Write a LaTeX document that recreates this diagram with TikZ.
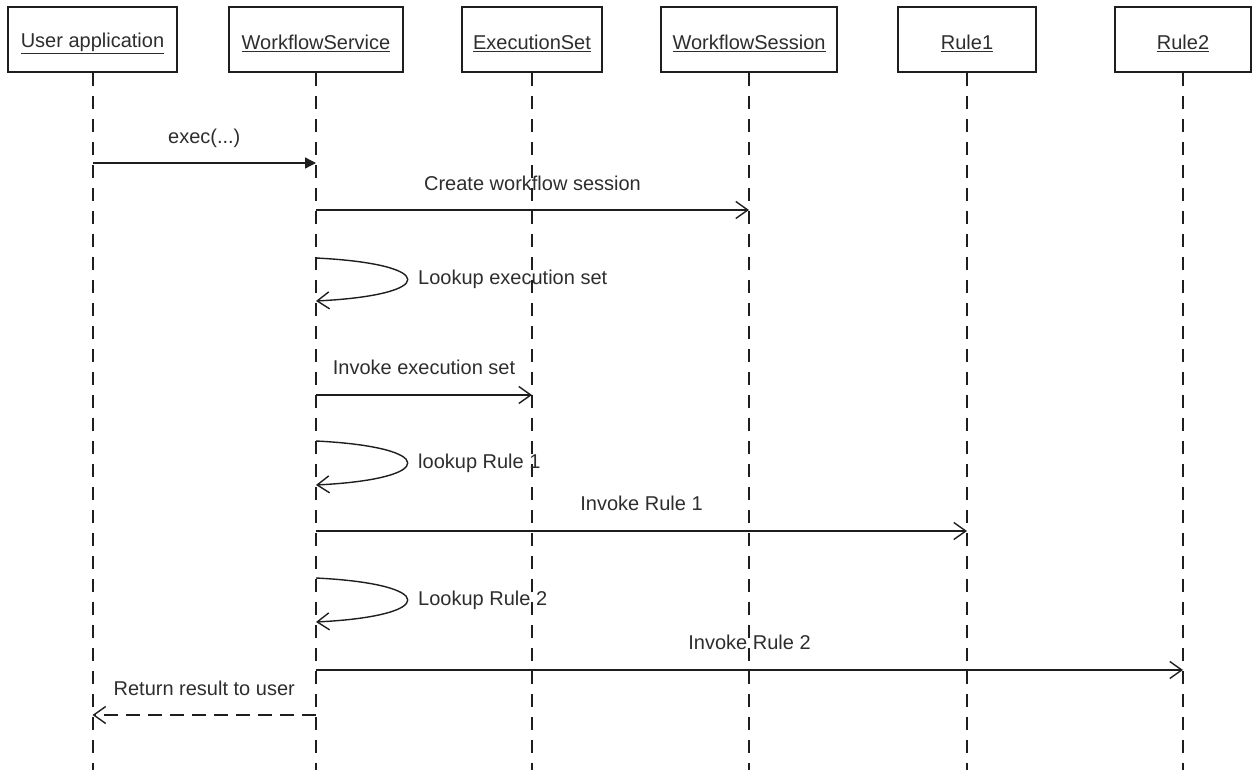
\documentclass[tikz,border=0pt]{standalone}
\usepackage{fontspec}
\setmainfont{Liberation Sans}
\usetikzlibrary{arrows.meta}
\definecolor{ink}{RGB}{30,30,30}
\definecolor{txt}{RGB}{45,45,45}
\tikzset{
  objbox/.style={draw=ink, line width=1.8pt, minimum height=65pt, inner sep=0pt, text=txt, font=\fontsize{20}{24}\selectfont},
  objtext/.style={text=txt, font=\fontsize{20}{24}\selectfont, inner sep=0pt},
  lifeline/.style={draw=ink, line width=2pt, dash pattern=on 13pt off 10pt},
  msg/.style={draw=ink, line width=1.4pt, -{Straight Barb[length=12pt,width=17pt,line width=1.4pt]}},
  call/.style={draw=ink, line width=1.4pt, -{Triangle[length=11pt,width=11pt]}},
  ret/.style={msg, dash pattern=on 14pt off 8pt},
  lbl/.style={text=txt, font=\fontsize{20}{24}\selectfont, inner sep=0pt},
}
\begin{document}
\begin{tikzpicture}[x=1pt,y=-1pt]
\useasboundingbox (0,0) rectangle (1252,770);
% objects
\node[objbox, minimum width=169pt] (ua) at (92.5,39.5) {};
\node[objbox, minimum width=174pt] (ws) at (316,39.5) {};
\node[objbox, minimum width=140pt] (es) at (532,39.5) {};
\node[objbox, minimum width=176pt] (wss) at (749,39.5) {};
\node[objbox, minimum width=138pt] (r1) at (967,39.5) {};
\node[objbox, minimum width=136pt] (r2) at (1183,39.5) {};
\node[objtext] (uat) at ([yshift=-4pt]ua.center) {\underline{User application}};
\node[objtext] (wst) at ([yshift=-4pt]ws.center) {\underline{WorkflowService}};
\node[objtext] (est) at ([yshift=-4pt]es.center) {\underline{ExecutionSet}};
\node[objtext] (wsst) at ([yshift=-4pt]wss.center) {\underline{WorkflowSession}};
\node[objtext] (r1t) at ([yshift=-4pt]r1.center) {\underline{Rule1}};
\node[objtext] (r2t) at ([yshift=-4pt]r2.center) {\underline{Rule2}};
% lifelines
\foreach \n in {ua,ws,es,wss,r1,r2}{
  \coordinate (\n-end) at (\n.south |- 0,770);
  \draw[lifeline] (\n.south) -- (\n-end);
}
% message points
\coordinate (a1) at (ua.south |- 0,163);  \coordinate (b1) at (ws.south |- 0,163);
\coordinate (a2) at (ws.south |- 0,210);  \coordinate (b2) at (wss.south |- 0,210);
\coordinate (l1s) at (ws.south |- 0,258); \coordinate (l1e) at (ws.south |- 0,301);
\coordinate (a3) at (ws.south |- 0,395);  \coordinate (b3) at (es.south |- 0,395);
\coordinate (l2s) at (ws.south |- 0,441); \coordinate (l2e) at (ws.south |- 0,485);
\coordinate (a4) at (ws.south |- 0,531);  \coordinate (b4) at (r1.south |- 0,531);
\coordinate (l3s) at (ws.south |- 0,578); \coordinate (l3e) at (ws.south |- 0,622);
\coordinate (a5) at (ws.south |- 0,670);  \coordinate (b5) at (r2.south |- 0,670);
\coordinate (a6) at (ws.south |- 0,715);  \coordinate (b6) at (ua.south |- 0,715);
% messages
\draw[call] (a1) -- node[lbl, pos=0.5, yshift=25pt] {exec(...)} (b1);
\draw[msg] (a2) -- node[lbl, pos=0.5, yshift=27pt] {Create workflow session} (b2);
\draw[msg] (l1s) .. controls +(122,6) and +(122,-6) .. node[lbl, pos=0.5, anchor=west, xshift=10pt] {Lookup execution set} (l1e);
\draw[msg] (a3) -- node[lbl, pos=0.5, yshift=28pt] {Invoke execution set} (b3);
\draw[msg] (l2s) .. controls +(122,6) and +(122,-6) .. node[lbl, pos=0.5, anchor=west, xshift=10pt] {lookup Rule 1} (l2e);
\draw[msg] (a4) -- node[lbl, pos=0.5, yshift=28pt] {Invoke Rule 1} (b4);
\draw[msg] (l3s) .. controls +(122,6) and +(122,-6) .. node[lbl, pos=0.5, anchor=west, xshift=10pt] {Lookup Rule 2} (l3e);
\draw[msg] (a5) -- node[lbl, pos=0.5, yshift=28pt] {Invoke Rule 2} (b5);
\draw[ret] (a6) -- node[lbl, pos=0.5, yshift=27pt] {Return result to user} (b6);
\end{tikzpicture}
\end{document}
